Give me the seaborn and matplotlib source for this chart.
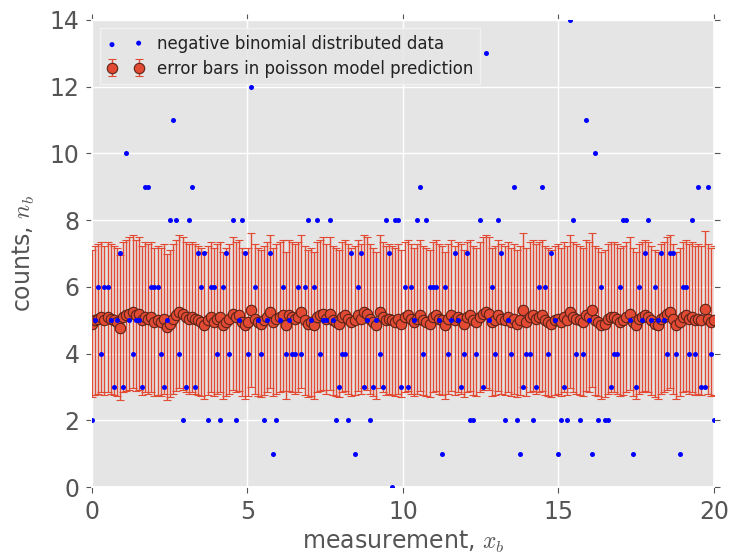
import numpy as np
import pandas as pd
import matplotlib
matplotlib.use("Agg")
import matplotlib.pyplot as plt
import seaborn as sns

# measurement positions x_b
x_start, x_stop, n_bins = 0.0, 20.0, 200

# observed counts n_b (negative binomial distributed data)
counts = [
    2, 5, 6, 4, 6, 6, 5, 3, 5, 7, 3, 10, 5, 4, 5, 5, 3, 9, 9, 6,
    6, 6, 4, 3, 5, 8, 11, 8, 4, 2, 3, 8, 9, 3, 7, 6, 7, 2, 6, 6,
    4, 2, 6, 7, 4, 8, 2, 5, 8, 7, 4, 12, 6, 5, 4, 2, 5, 7, 1, 2,
    5, 6, 4, 5, 4, 4, 6, 4, 6, 8, 5, 6, 8, 4, 5, 5, 8, 5, 2, 3,
    4, 4, 2, 7, 1, 6, 7, 3, 5, 2, 3, 5, 4, 3, 8, 7, 0, 8, 8, 3,
    6, 3, 6, 5, 8, 9, 4, 8, 6, 6, 6, 5, 1, 6, 4, 5, 7, 5, 3, 4,
    7, 2, 2, 4, 8, 3, 13, 5, 6, 4, 8, 7, 2, 5, 4, 9, 2, 1, 3, 4,
    4, 2, 3, 6, 9, 6, 4, 7, 5, 1, 2, 3, 2, 14, 8, 4, 2, 4, 11, 5,
    1, 10, 2, 6, 2, 2, 3, 4, 4, 6, 8, 8, 5, 1, 3, 6, 5, 7, 8, 5,
    6, 5, 7, 5, 4, 7, 7, 4, 1, 6, 6, 4, 8, 4, 9, 3, 3, 9, 4, 2,
]

# poisson model prediction per bin
prediction = [
    4.90, 5.00, 5.05, 5.10, 5.00, 5.10, 5.05, 5.00, 4.95, 4.78,
    5.10, 5.15, 5.20, 5.25, 5.15, 5.20, 5.00, 5.10, 5.05, 5.10,
    4.95, 5.00, 4.95, 5.05, 4.80, 4.90, 5.05, 5.15, 5.25, 5.20,
    5.10, 5.05, 5.10, 5.05, 5.00, 4.95, 4.85, 5.00, 5.10, 4.95,
    5.05, 5.10, 4.85, 4.95, 5.05, 5.20, 5.10, 5.15, 4.95, 4.85,
    4.95, 5.30, 5.05, 4.95, 4.90, 5.00, 5.10, 5.25, 4.95, 5.05,
    5.10, 5.15, 4.85, 5.15, 5.10, 5.05, 5.10, 5.25, 5.00, 4.90,
    4.95, 4.85, 5.10, 5.15, 5.20, 5.05, 5.20, 5.00, 4.95, 4.90,
    5.10, 5.15, 5.05, 4.95, 5.00, 5.15, 5.05, 5.25, 5.20, 5.05,
    4.95, 4.85, 5.25, 5.10, 5.00, 5.05, 5.00, 4.95, 5.05, 4.90,
    5.10, 5.15, 5.05, 4.95, 5.05, 5.15, 5.00, 4.95, 4.90, 5.10,
    5.15, 5.05, 5.00, 4.85, 5.05, 5.15, 5.00, 5.10, 5.05, 4.90,
    5.10, 5.15, 5.00, 4.95, 5.10, 5.20, 5.25, 5.20, 4.95, 5.00,
    5.15, 5.05, 5.00, 5.10, 4.95, 5.05, 4.90, 5.00, 5.30, 4.95,
    5.10, 5.15, 5.05, 5.10, 5.15, 5.00, 4.95, 4.90, 5.00, 5.05,
    4.95, 5.10, 5.00, 5.25, 5.10, 5.05, 5.00, 4.95, 5.15, 5.10,
    5.30, 5.00, 4.95, 4.85, 4.90, 5.05, 5.10, 5.10, 5.05, 4.95,
    5.00, 5.10, 5.20, 4.95, 4.85, 5.05, 5.10, 5.15, 5.10, 5.00,
    4.90, 4.85, 5.05, 5.10, 5.20, 5.25, 5.05, 4.85, 4.95, 5.10,
    5.15, 5.05, 5.10, 5.00, 5.05, 5.00, 5.35, 5.05, 4.95, 5.00,
]

x_ticks = [0, 5, 10, 15, 20]
y_ticks = [0, 2, 4, 6, 8, 10, 12, 14]

df = pd.DataFrame({
    "x": np.linspace(x_start, x_stop, n_bins),
    "counts": counts,
    "prediction": prediction,
})
df["err"] = np.sqrt(df["prediction"])

sns.set_theme(style="darkgrid", rc={
    "axes.facecolor": "#E5E5E5",
    "axes.edgecolor": "white",
    "grid.color": "white",
    "grid.linewidth": 1.0,
})
plt.rcParams["font.family"] = ["DejaVu Sans"]
plt.rcParams["mathtext.fontset"] = "cm"

red = "#E24A33"
fig = plt.figure(figsize=(7.3, 5.55), dpi=100)
ax = fig.add_axes([0.126, 0.1225, 0.852, 0.8415])

eb = ax.errorbar(df["x"], df["prediction"], yerr=df["err"], fmt="o",
                 color=red, ecolor=red, elinewidth=1.0, capsize=3,
                 capthick=1.0, markersize=7.5, markeredgecolor="#5a2418",
                 markeredgewidth=0.8, zorder=3,
                 label="error bars in poisson model prediction")

sns.scatterplot(data=df, x="x", y="counts", ax=ax, color="#0000FF",
                s=13, linewidth=0, zorder=4,
                label="negative binomial distributed data")

ax.set_xlim(x_start, x_stop)
ax.set_ylim(0, 14)
ax.set_xticks(x_ticks)
ax.set_yticks(y_ticks)
ax.set_xlabel("measurement, $x_b$", fontsize=17, color="#555555", labelpad=4)
ax.set_ylabel("counts, $n_b$", fontsize=17, color="#555555", labelpad=9)
ax.tick_params(axis="both", which="major", labelsize=17, colors="#555555",
               direction="out", length=4, width=0.8, pad=5,
               top=True, right=True, bottom=True, left=True)
ax.grid(True, color="white", linewidth=1.0)

handles, labels = ax.get_legend_handles_labels()
order = [labels.index("negative binomial distributed data"),
         labels.index("error bars in poisson model prediction")]
leg = ax.legend([handles[i] for i in order], [labels[i] for i in order],
                loc="upper left", fontsize=12, scatterpoints=2, numpoints=2,
                frameon=True, fancybox=False, borderpad=0.4,
                labelspacing=0.4, handlelength=2.2, bbox_to_anchor=(0.0, 1.0))
leg.set_zorder(2)
leg.get_frame().set_facecolor("#E5E5E5")
leg.get_frame().set_edgecolor("#F5F5F5")
for t in leg.get_texts():
    t.set_color("#222222")

fig.savefig("out.png", dpi=100)
